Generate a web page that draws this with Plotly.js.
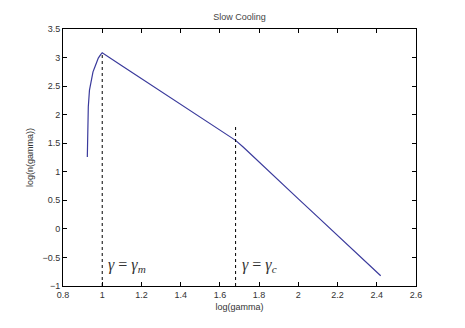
<!DOCTYPE html>
<html>
<head>
<meta charset="utf-8">
<script src="https://cdn.plot.ly/plotly-3.0.1.min.js"></script>
<style>
  body { margin: 0; background: #fff; }
  #plotArea { width: 465px; height: 328px; }
</style>
</head>
<body>
<div id="plotArea"></div>
<script>
// curve
var logGamma = [0.924, 0.926, 0.927, 0.929, 0.935, 0.943, 0.953, 0.963, 0.980, 0.992, 1.0,
                1.1, 1.2, 1.3, 1.4, 1.5, 1.6, 1.68, 1.72, 1.75, 1.8, 1.9, 2.0, 2.1, 2.2, 2.3, 2.42];
var logN = [1.26, 1.68, 1.72, 2.14, 2.43, 2.61, 2.75, 2.84, 2.99, 3.05, 3.085,
            2.858, 2.632, 2.405, 2.179, 1.952, 1.726, 1.55, 1.43, 1.335, 1.164, 0.845, 0.526, 0.207, -0.112, -0.431, -0.82];

// break points (dashed markers)
var breakX = [1.0, 1.68];
var breakTop = [3.08, 1.82];
var breakLabels = ["<i>γ</i> = <i>γ<sub>m</sub></i>", "<i>γ</i> = <i>γ<sub>c</sub></i>"];

var trace = {
  x: logGamma,
  y: logN,
  type: "scatter",
  mode: "lines",
  line: {color: "#3a3a9c", width: 1.2},
  hoverinfo: "none"
};

var shapes = breakX.map(function (bx, i) {
  return {
    type: "line", xref: "x", yref: "y",
    x0: bx, x1: bx, y0: -1, y1: breakTop[i],
    line: {color: "#000", width: 1, dash: "3px,3px"}
  };
});

var annotations = breakX.map(function (bx, i) {
  return {
    x: bx + 0.02, y: -0.64, xref: "x", yref: "y",
    text: breakLabels[i], showarrow: false,
    xanchor: "left", yanchor: "middle",
    font: {family: "Liberation Serif, serif", size: 16, color: "#333"}
  };
});

var axisStyle = {
  showline: true, linecolor: "#000", linewidth: 1,
  mirror: "ticks", ticks: "inside", ticklen: 4, tickcolor: "#000",
  showgrid: false, zeroline: false,
  tickfont: {family: "Liberation Sans, Arial, sans-serif", size: 9, color: "#333"}
};

var layout = {
  width: 465, height: 328,
  margin: {l: 63, r: 49, t: 29, b: 42},
  paper_bgcolor: "#fff", plot_bgcolor: "#fff",
  showlegend: false,
  title: {
    text: "Slow Cooling", x: 0.515, xanchor: "center", y: 0.948, yanchor: "middle",
    font: {family: "Liberation Sans, Arial, sans-serif", size: 9, color: "#444"}
  },
  xaxis: Object.assign({}, axisStyle, {
    range: [0.8, 2.6], tickvals: [0.8, 1, 1.2, 1.4, 1.6, 1.8, 2, 2.2, 2.4, 2.6],
    ticktext: ["0.8", "1", "1.2", "1.4", "1.6", "1.8", "2", "2.2", "2.4", "2.6"],
    title: {text: "log(gamma)", standoff: 4,
            font: {family: "Liberation Sans, Arial, sans-serif", size: 9, color: "#333"}}
  }),
  yaxis: Object.assign({}, axisStyle, {
    range: [-1, 3.5], dtick: 0.5,
    title: {text: "log(n(gamma))", standoff: 7,
            font: {family: "Liberation Sans, Arial, sans-serif", size: 9, color: "#333"}}
  }),
  shapes: shapes,
  annotations: annotations
};

Plotly.newPlot("plotArea", [trace], layout, {staticPlot: true});
</script>
</body>
</html>
